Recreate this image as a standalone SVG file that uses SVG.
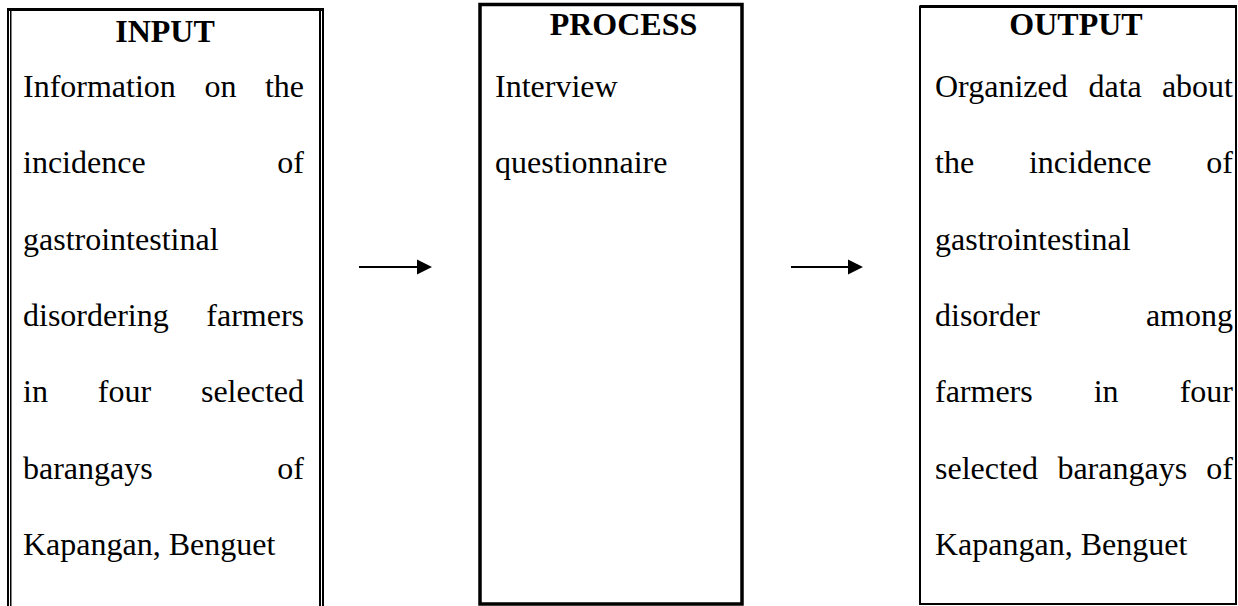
<svg xmlns="http://www.w3.org/2000/svg" width="1238" height="606" viewBox="0 0 1238 606">
<defs>
<style>
.t{font-family:"Liberation Serif","Times New Roman",serif;font-size:32px;fill:#000}
.h{font-family:"Liberation Serif","Times New Roman",serif;font-size:32px;font-weight:bold;fill:#000;text-anchor:middle}
.e{text-anchor:end}
.b{fill:#000}
</style>
<marker id="arr" markerUnits="userSpaceOnUse" markerWidth="16" markerHeight="16" refX="0" refY="8" orient="auto">
<polygon points="0,0.5 15,8 0,15.5" fill="#000"/>
</marker>
</defs>
<rect width="1238" height="606" fill="#fff"/>
<g id="input">
<rect class="b" x="7" y="8" width="317" height="3"/>
<rect class="b" x="7" y="8" width="2" height="598"/>
<rect class="b" x="10" y="8" width="1.5" height="598"/>
<rect class="b" x="319" y="8" width="2" height="598"/>
<rect class="b" x="322" y="8" width="2" height="598"/>
<text class="h" x="165" y="42">INPUT</text>
<text class="t" x="23" y="97">Information</text><text class="t" x="204.4" y="97">on</text><text class="t e" x="304" y="97">the</text>
<text class="t" x="23" y="173.3">incidence</text><text class="t e" x="304" y="173.3">of</text>
<text class="t" x="23" y="249.6">gastrointestinal</text>
<text class="t" x="23" y="325.9">disordering</text><text class="t e" x="304" y="325.9">farmers</text>
<text class="t" x="23" y="402.2">in</text><text class="t" x="97.8" y="402.2">four</text><text class="t e" x="304" y="402.2">selected</text>
<text class="t" x="23" y="478.5">barangays</text><text class="t e" x="304" y="478.5">of</text>
<text class="t" x="23" y="554.8">Kapangan, Benguet</text>
</g>
<g id="process">
<rect x="480" y="4.5" width="262" height="599.5" fill="none" stroke="#000" stroke-width="3.5"/>
<text class="h" x="623.5" y="35">PROCESS</text>
<text class="t" x="495" y="97">Interview</text>
<text class="t" x="495" y="173.3">questionnaire</text>
</g>
<g id="output">
<rect x="920" y="6.5" width="316" height="597.5" fill="none" stroke="#000" stroke-width="2"/>
<rect class="b" x="920" y="5" width="317" height="3"/>
<text class="h" x="1076" y="35">OUTPUT</text>
<text class="t" x="935" y="97">Organized</text><text class="t" x="1088.5" y="97">data</text><text class="t e" x="1233" y="97">about</text>
<text class="t" x="935" y="173.3">the</text><text class="t" x="1028.9" y="173.3">incidence</text><text class="t e" x="1233" y="173.3">of</text>
<text class="t" x="935" y="249.6">gastrointestinal</text>
<text class="t" x="935" y="325.9">disorder</text><text class="t e" x="1233" y="325.9">among</text>
<text class="t" x="935" y="402.2">farmers</text><text class="t" x="1093.7" y="402.2">in</text><text class="t e" x="1233" y="402.2">four</text>
<text class="t" x="935" y="478.5">selected</text><text class="t" x="1057.4" y="478.5">barangays</text><text class="t e" x="1233" y="478.5">of</text>
<text class="t" x="935" y="554.8">Kapangan, Benguet</text>
</g>
<g id="connectors" stroke="#000" stroke-width="2" fill="none">
<line x1="359" y1="267" x2="417" y2="267" marker-end="url(#arr)"/>
<line x1="791" y1="267" x2="848" y2="267" marker-end="url(#arr)"/>
</g>
</svg>
